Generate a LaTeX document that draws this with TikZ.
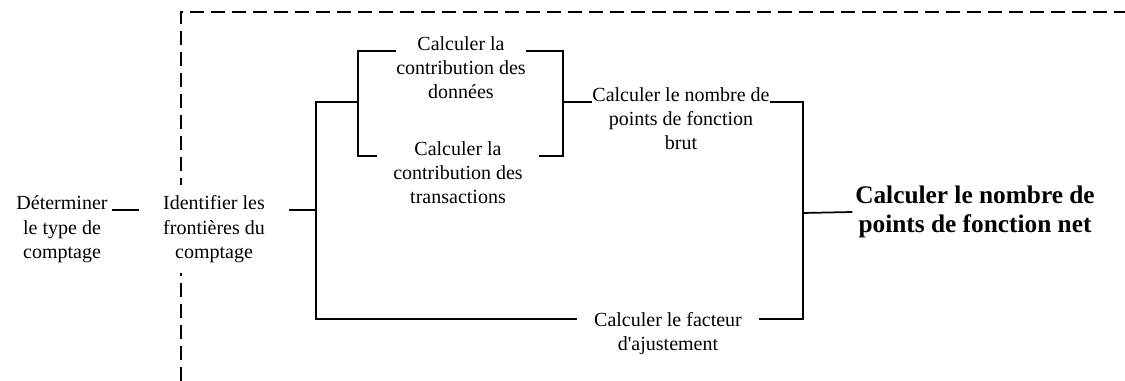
\documentclass[tikz,border=0pt]{standalone}
\usepackage{fontspec}
\setmainfont{Liberation Serif}
\begin{document}
\begin{tikzpicture}[x=0.75pt,y=-0.75pt,
	task/.style={align=center,font=\fontsize{15}{18}\selectfont,inner xsep=0pt,inner ysep=2pt,fill=white,anchor=base},
	link/.style={line width=1.3pt},
	border/.style={line width=1.3pt,dash pattern=on 10.5pt off 5.25pt}]
	\useasboundingbox (0,0) rectangle (1125,381);
	
	% limite du comptage
	\draw[border] (181,381) |- (1125,12);
	
	% base = ligne du bas, d'ou les yshift sur les liens
	\node[task,minimum width=75pt] (type) at (62,258) {Déterminer\\le type de\\comptage};
	\node[task,minimum width=112pt,inner ysep=8pt] (scope) at (214,258) {Identifier les\\frontières du\\comptage};
	\node[task,minimum width=96pt] (data) at (461,99) {Calculer la\\contribution des\\données};
	\node[task,minimum width=121.5pt] (trans) at (458,204) {Calculer la\\contribution des\\transactions};
	\node[task,minimum width=116pt] (raw) at (681,150) {Calculer le nombre de\\points de fonction\\brut};
	\node[task,minimum width=136pt] (factor) at (668,350) {Calculer le facteur\\d\textquotesingle ajustement};
	\node[align=center,font=\fontsize{19}{21.75}\selectfont\bfseries,inner xsep=2pt] (net) at (975,212) {Calculer le nombre de\\points de fonction net};
	
	\coordinate (spine) at (316,102);
	\coordinate (fork) at (358,102);
	\coordinate (join) at (563,102);
	\coordinate (merge) at (803,213);
	
	\draw[link] ([yshift=36pt]type.base east) -- ([yshift=36pt]scope.base west);
	\draw[link] ([yshift=36pt]scope.base east) -- ([yshift=36pt]scope.base east -| spine);
	\draw[link] ([yshift=23pt]factor.base west) -| (spine) -- (fork);
	\draw[link] ([yshift=36pt]data.base west) -| (fork) |- ([yshift=36pt]trans.base west);
	\draw[link] ([yshift=36pt]data.base east) -| (join) |- ([yshift=36pt]trans.base east);
	\draw[link] (join) -- ([yshift=36pt]raw.base west);
	\draw[link] ([yshift=36pt]raw.base east) -| (merge) |- ([yshift=23pt]factor.base east);
	\draw[link] (merge) -- (net.west);
\end{tikzpicture}
\end{document}
